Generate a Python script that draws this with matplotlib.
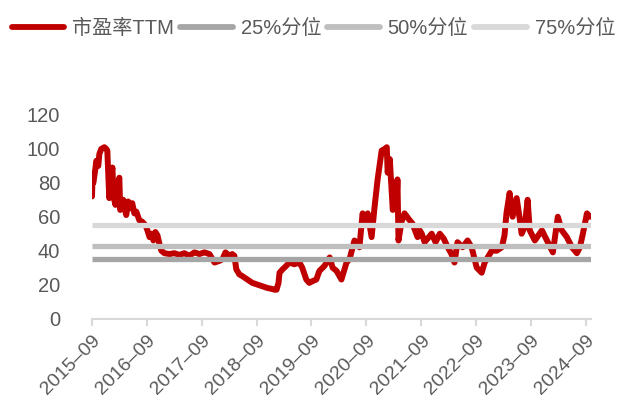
import matplotlib
matplotlib.use("Agg")
import matplotlib.pyplot as plt
import numpy as np
import pandas as pd

plt.rcParams["font.family"] = ["Liberation Sans", "Noto Sans CJK SC", "DejaVu Sans"]

# 市盈率TTM series (date, value)
DATES = [
    "2015-09-01", "2015-09-04", "2015-09-10", "2015-09-23", "2015-09-30", "2015-10-13",
    "2015-10-20", "2015-11-02", "2015-11-22", "2015-12-05", "2015-12-12", "2015-12-25",
    "2016-01-08", "2016-01-15", "2016-01-22", "2016-02-04", "2016-02-17", "2016-03-01",
    "2016-03-07", "2016-03-27", "2016-04-03", "2016-04-16", "2016-04-29", "2016-05-13",
    "2016-05-26", "2016-06-09", "2016-06-22", "2016-07-12", "2016-08-01", "2016-08-22",
    "2016-09-04", "2016-09-18", "2016-10-01", "2016-10-14", "2016-10-27", "2016-11-10",
    "2016-11-23", "2016-12-06", "2016-12-26", "2017-01-29", "2017-03-02", "2017-04-05",
    "2017-05-08", "2017-06-10", "2017-07-14", "2017-08-16", "2017-09-19", "2017-10-22",
    "2017-11-25", "2017-12-28", "2018-01-17", "2018-02-06", "2018-03-03", "2018-03-23",
    "2018-04-06", "2018-04-19", "2018-05-09", "2018-05-29", "2018-07-01", "2018-08-04",
    "2018-09-07", "2018-10-10", "2018-11-12", "2018-12-09", "2018-12-29", "2019-01-12",
    "2019-01-25", "2019-02-01", "2019-02-21", "2019-03-17", "2019-04-07", "2019-05-10",
    "2019-06-13", "2019-07-02", "2019-07-29", "2019-08-18", "2019-09-08", "2019-10-04",
    "2019-10-24", "2019-11-27", "2020-01-01", "2020-01-20", "2020-02-16", "2020-03-19",
    "2020-04-22", "2020-05-12", "2020-06-14", "2020-07-17", "2020-08-07", "2020-08-27",
    "2020-09-10", "2020-10-06", "2020-10-26", "2020-11-15", "2020-12-12", "2021-01-01",
    "2021-01-15", "2021-01-21", "2021-02-04", "2021-02-24", "2021-03-07", "2021-03-20",
    "2021-03-27", "2021-04-03", "2021-04-23", "2021-05-13", "2021-06-16", "2021-07-05",
    "2021-08-08", "2021-08-22", "2021-09-05", "2021-09-24", "2021-11-10", "2021-12-06",
    "2022-01-03", "2022-01-30", "2022-02-25", "2022-03-22", "2022-04-11", "2022-05-01",
    "2022-06-04", "2022-07-07", "2022-08-03", "2022-09-06", "2022-10-09", "2022-10-29",
    "2022-12-15", "2023-01-18", "2023-02-20", "2023-03-10", "2023-03-23", "2023-04-13",
    "2023-05-03", "2023-05-30", "2023-06-19", "2023-07-02", "2023-07-22", "2023-08-11",
    "2023-08-25", "2023-09-28", "2023-11-14", "2023-12-23", "2024-01-26", "2024-02-28",
    "2024-03-25", "2024-04-28", "2024-06-01", "2024-07-04", "2024-07-24", "2024-08-13",
    "2024-09-09", "2024-09-29",
]
PE_TTM = [
    72, 82, 80, 88, 93, 90,
    97, 100, 101, 100, 99, 71,
    85, 89, 72, 67, 78, 83,
    64, 70, 66, 61, 69, 65,
    68, 62, 63, 58, 57, 55,
    52, 48, 50, 46, 51, 49,
    44, 40, 38.5, 38, 38.5, 37.5,
    38.5, 37, 39, 38, 39, 38,
    33, 34, 35, 39, 37, 38,
    37, 29, 26, 25, 23, 21,
    20, 19, 18, 17.5, 17, 17,
    21, 27, 29, 31, 33, 32,
    33, 30, 23, 21, 22, 23,
    28, 31, 36, 30, 28, 23,
    33, 35, 46, 42, 62, 55,
    62, 48, 66, 82, 99, 100,
    101, 86, 94, 64, 68, 65,
    82, 46, 57, 62, 58, 56,
    48, 52, 50, 45, 50, 45,
    50, 47, 42, 38, 33, 45,
    42, 46, 42, 30, 27, 33,
    40, 40, 42, 49, 62, 74,
    60, 71, 59, 50, 54, 70,
    52, 46, 52, 45, 39, 60,
    52, 48, 42, 38.5, 42, 50,
    62, 60,
]

# percentile levels
PCT_LABELS = ["25%分位", "50%分位", "75%分位"]
PCT_VALUES = [35.0, 42.8, 55.2]
PCT_COLORS = ["#A6A6A6", "#BFBFBF", "#D9D9D9"]

TICK_YEARS = list(range(2015, 2025))
TICK_LABELS = [f"{y}\u201309" for y in TICK_YEARS]

TEXT_COLOR = "#595959"
RED = "#C00000"

df = pd.DataFrame({"date": pd.to_datetime(DATES), "pe": PE_TTM})
x_start = pd.Timestamp("2015-09-01")
x_end = pd.Timestamp("2024-10-06")

fig = plt.figure(figsize=(6.26, 4.03), dpi=100)
ax = fig.add_axes([92 / 626, 1 - 318.5 / 403, (591 - 92) / 626, (318.5 - 115) / 403])

ax.plot(df["date"], df["pe"], color=RED, lw=4.3, solid_joinstyle="round",
        solid_capstyle="round", label="市盈率TTM", zorder=2)
for lab, val, col in zip(PCT_LABELS, PCT_VALUES, PCT_COLORS):
    ax.plot([x_start, x_end], [val, val], color=col, lw=3.8, label=lab, zorder=3,
            solid_capstyle="butt")

ax.set_xlim(x_start, x_end)
ax.set_ylim(0, 120)
ax.set_yticks(np.arange(0, 121, 20))
ax.set_xticks(pd.to_datetime([f"{y}-09-01" for y in TICK_YEARS]))
ax.set_xticklabels(TICK_LABELS, rotation=45, ha="right", rotation_mode="anchor")

for side in ["left", "right", "top"]:
    ax.spines[side].set_visible(False)
ax.spines["bottom"].set_color("#D9D9D9")
ax.spines["bottom"].set_linewidth(1.5)
ax.tick_params(axis="x", colors="#D9D9D9", width=1.5, length=5, labelcolor=TEXT_COLOR,
               labelsize=14, pad=5)
ax.tick_params(axis="y", length=0, labelcolor=TEXT_COLOR, labelsize=14.5, pad=23)

leg = fig.legend(loc="center left", bbox_to_anchor=(12 / 626, 1 - 28 / 403), ncol=4,
                 frameon=False, fontsize=14.5, handlelength=2.6, handletextpad=0.4,
                 columnspacing=0.3, borderaxespad=0, borderpad=0)
for t in leg.get_texts():
    t.set_color(TEXT_COLOR)
for h in leg.get_lines():
    h.set_linewidth(4.2)
    h.set_solid_capstyle("round")

fig.savefig("out.png", dpi=100)
